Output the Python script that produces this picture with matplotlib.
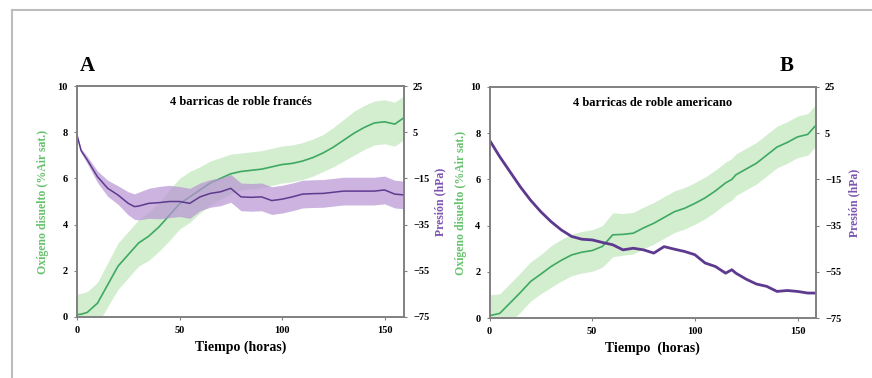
import matplotlib
matplotlib.use("Agg")
import matplotlib.pyplot as plt
from matplotlib.lines import Line2D
import numpy as np

plt.rcParams['font.family'] = ['Liberation Serif', 'DejaVu Serif']
plt.rcParams['font.weight'] = 'bold'

# ---------------- data ----------------
t_a = [0, 2, 5, 10, 15, 20, 25, 28, 30, 35, 40, 45, 50, 55, 60, 65, 70, 75, 80, 85, 90,
       95, 100, 105, 110, 115, 120, 125, 130, 135, 140, 145, 150, 155, 160]
oxy_a = [0.1, 0.12, 0.2, 0.6, 1.4, 2.2, 2.7, 3.0, 3.2, 3.5, 3.9, 4.4, 4.9, 5.2, 5.5, 5.8, 6.0, 6.2, 6.3, 6.35, 6.4,
         6.5, 6.6, 6.65, 6.75, 6.9, 7.1, 7.35, 7.65, 7.95, 8.2, 8.4, 8.45, 8.35, 8.66]
oxy_a_sd = [0.9, 0.9, 0.9, 0.9, 0.95, 1.0, 1.0, 1.0, 1.0, 1.05, 1.05, 1.1, 1.1, 1.1, 1.0, 0.95, 0.9, 0.85, 0.8, 0.8, 0.8,
            0.8, 0.8, 0.8, 0.8, 0.8, 0.8, 0.85, 0.9, 0.95, 0.95, 0.95, 0.95, 0.95, 0.95]
pres_a = [3.7, -3.0, -7.0, -14.3, -19.3, -22.2, -25.8, -27.2, -27.0, -25.8, -25.5, -25.0, -25.0, -25.8, -23.0, -21.5, -20.8, -19.3, -23.0, -23.2, -23.0,
          -24.6, -24.0, -23.0, -21.8, -21.6, -21.5, -21.0, -20.5, -20.5, -20.5, -20.5, -20.0, -21.8, -22.2]
pres_a_sd = [0.5, 1.0, 1.5, 2.5, 3.5, 4.0, 5.0, 5.5, 6.0, 6.5, 7.0, 7.0, 6.5, 6.5, 6.0, 6.0, 6.0, 6.0, 6.0, 6.0, 6.0,
             6.0, 6.0, 6.0, 6.0, 6.0, 6.0, 6.0, 6.0, 6.0, 6.0, 6.0, 6.0, 6.0, 6.0]

t_b = [0, 5, 10, 15, 20, 25, 30, 35, 40, 45, 50, 55, 60, 65, 70, 75, 80, 85, 90,
       95, 100, 105, 110, 115, 118, 120, 125, 130, 135, 140, 145, 150, 155, 159]
oxy_b = [0.1, 0.2, 0.65, 1.1, 1.58, 1.9, 2.23, 2.5, 2.73, 2.85, 2.92, 3.1, 3.6, 3.62, 3.67, 3.9, 4.1, 4.35, 4.6,
         4.75, 4.96, 5.2, 5.5, 5.85, 6.0, 6.2, 6.45, 6.7, 7.05, 7.4, 7.6, 7.84, 7.95, 8.35]
oxy_b_sd = [0.9, 0.85, 0.85, 0.85, 0.85, 0.85, 0.9, 0.9, 0.9, 0.9, 0.9, 0.9, 0.95, 0.9, 0.9, 0.9, 0.9, 0.9, 0.9,
            0.9, 0.9, 0.9, 0.9, 0.9, 0.9, 0.9, 0.9, 0.9, 0.9, 0.9, 0.9, 0.9, 0.9, 0.9]
pres_b = [2.0, -5.2, -11.7, -18.2, -24.0, -29.0, -33.3, -36.9, -39.7, -40.9, -41.2, -42.3, -43.3, -45.5, -44.8, -45.5, -46.9, -44.1, -45.2,
          -46.2, -47.6, -51.2, -52.7, -55.6, -54.1, -55.6, -58.2, -60.3, -61.3, -63.5, -63.1, -63.5, -64.2, -64.2]

yticks_left = [0, 2, 4, 6, 8, 10]
yticks_right = [-75, -55, -35, -15, 5, 25]
xticks = [0, 50, 100, 150]

GREEN = '#3fa862'
GREEN_BAND = '#d2eecf'
PURPLE = '#5e3a8f'
PURPLE_BAND = '#b793d3'
LABEL_GREEN = '#66c26c'
LABEL_PURPLE = '#7c55b0'
SPINE = '#808080'

fig = plt.figure(figsize=(8.72, 3.78), dpi=100)

# outer frame (left and top lines)
fig.add_artist(Line2D([12/872, 12/872], [0, 1 - 10/378], color='#bdbdbd', lw=1.5, transform=fig.transFigure))
fig.add_artist(Line2D([12/872, 1], [1 - 10/378, 1 - 10/378], color='#bdbdbd', lw=1.5, transform=fig.transFigure))

def panel(rect, t, oxy, oxy_sd, pres, pres_sd, xmax, title, xlabel, letter, letter_x, lx_left, lx_right):
    ax = fig.add_axes(rect)
    ox = np.array(oxy); osd = np.array(oxy_sd)
    ax.fill_between(t, ox - osd, ox + osd, color=GREEN_BAND, lw=0, zorder=1)
    ax.plot(t, oxy, color=GREEN, lw=1.2, zorder=2)
    ax.set_xlim(0, xmax)
    ax.set_ylim(0, 10)
    ax.set_yticks(yticks_left)
    ax.set_xticks(xticks)
    ax2 = ax.twinx()
    pr = np.array(pres)
    if pres_sd is not None:
        psd = np.array(pres_sd)
        ax2.fill_between(t, pr - psd, pr + psd, color=PURPLE_BAND, alpha=0.7, lw=0)
        ax2.plot(t, pres, color=PURPLE, lw=1.1)
    else:
        ax2.plot(t, pres, color=PURPLE, lw=2.0)
    ax2.set_ylim(-75, 25)
    ax2.set_yticks(yticks_right)
    for a in (ax, ax2):
        for s in a.spines.values():
            s.set_color(SPINE)
            s.set_linewidth(1.2)
        a.tick_params(length=2.5, width=0.8, color=SPINE, labelsize=7.5, pad=4)
    for lab in ax.get_xticklabels() + ax.get_yticklabels() + ax2.get_yticklabels():
        lab.set_fontweight('bold')
    ax.set_xlabel(xlabel, fontsize=10, fontweight='bold', labelpad=4)
    ax.set_ylabel('Oxígeno disuelto (%Air sat.)', fontsize=8.5, fontweight='bold', color=LABEL_GREEN)
    ax.yaxis.set_label_coords(lx_left, 0.5)
    ax2.set_ylabel('Presión (hPa)', fontsize=8.5, fontweight='bold', color=LABEL_PURPLE, rotation=90)
    ax2.yaxis.set_label_coords(lx_right, 0.5)
    ax2.yaxis.label.set_va('center')
    ax.yaxis.label.set_va('center')
    ax.text(0.5, 0.955, title, transform=ax.transAxes, ha='center', va='top', fontsize=9, fontweight='bold')
    fig.text(letter_x, 1 - 66/378, letter, ha='center', va='center', fontsize=15, fontweight='bold')
    return ax, ax2

panel([77/872, 1 - 317/378, 327/872, 231/378], t_a, oxy_a, oxy_a_sd, pres_a, pres_a_sd, 159.5,
      '4 barricas de roble francés', 'Tiempo (horas)', 'A', 87/872, -0.104, 1.110)
panel([489.5/872, 1 - 318/378, 326.5/872, 231/378], t_b, oxy_b, oxy_b_sd, pres_b, None, 159,
      '4 barricas de roble americano', 'Tiempo  (horas)', 'B', 787/872, -0.087, 1.116)

fig.savefig('out.png', dpi=100, facecolor='white')
